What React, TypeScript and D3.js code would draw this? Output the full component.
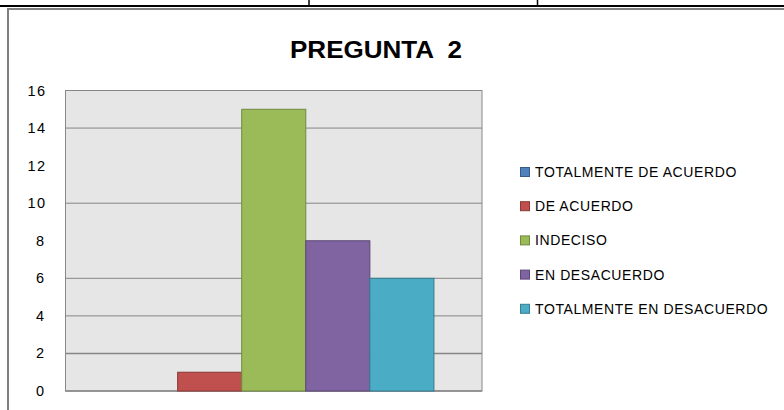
import React from "react";
import * as d3 from "d3";

const title = "PREGUNTA  2";
const categories = ["PREGUNTA 2"];
const seriesNames = [
  "TOTALMENTE DE ACUERDO",
  "DE ACUERDO",
  "INDECISO",
  "EN DESACUERDO",
  "TOTALMENTE EN DESACUERDO",
];
const seriesValues = [0, 1, 15, 8, 6];
const seriesColors = ["#4f81bd", "#c0504d", "#9bbb59", "#8064a2", "#4bacc6"];
const seriesStrokes = ["#385d8a", "#8c3836", "#71893f", "#5c4776", "#357d91"];
const yTicks = [0, 2, 4, 6, 8, 10, 12, 14, 16];
const gridValues = [2, 4, 6, 10, 14, 16];

const W = 784;
const H = 410;
const plot = { left: 65.5, right: 482, top: 90.5, bottom: 391 };

export default function App() {
  const y = d3.scaleLinear().domain([0, 16]).range([plot.bottom, plot.top]);
  const x0 = d3
    .scaleBand()
    .domain(categories)
    .range([plot.left, plot.right])
    .paddingInner(0)
    .paddingOuter(0);
  // gap width 150% => outer padding each side = 0.75 bar width
  const groupW = x0.bandwidth();
  const barW = groupW / (seriesNames.length + 1.5);
  const x1 = d3
    .scaleBand()
    .domain(seriesNames)
    .range([barW * 0.75, groupW - barW * 0.75])
    .padding(0);

  const font = "'Liberation Sans', Arial, sans-serif";

  return (
    <svg
      width={W}
      height={H}
      style={{ position: "absolute", left: 0, top: 0, background: "#fff" }}
    >
      {/* document table lines */}
      <line x1={0} x2={W} y1={6} y2={6} stroke="#000" strokeWidth={2} />
      <line x1={309} x2={309} y1={0} y2={6} stroke="#000" strokeWidth={1.5} />
      <line x1={537.5} x2={537.5} y1={0} y2={6} stroke="#000" strokeWidth={1.5} />
      {/* chart frame */}
      <line x1={7} x2={W} y1={9} y2={9} stroke="#808080" strokeWidth={2} />
      <line x1={8} x2={8} y1={8} y2={H} stroke="#808080" strokeWidth={2} />

      <text
        x={376}
        y={58}
        textAnchor="middle"
        fontFamily={font}
        fontWeight="bold"
        fontSize={23}
        fill="#000"
        textLength={172}
        lengthAdjust="spacingAndGlyphs"
        style={{ whiteSpace: "pre" }}
      >
        {title}
      </text>

      {/* plot area */}
      <rect
        x={plot.left}
        y={plot.top}
        width={plot.right - plot.left}
        height={plot.bottom - plot.top}
        fill="#e6e6e6"
        stroke="#888"
        strokeWidth={1}
      />
      {gridValues.map((v) => (
        <line
          key={v}
          x1={plot.left}
          x2={plot.right}
          y1={y(v)}
          y2={y(v)}
          stroke="#868686"
          strokeWidth={v === 2 ? 1.5 : 1}
        />
      ))}
      <line
        x1={plot.left}
        x2={plot.right}
        y1={y(0)}
        y2={y(0)}
        stroke="#868686"
        strokeWidth={1.5}
      />

      {yTicks.map((v) => (
        <text
          key={v}
          x={v >= 10 ? 37 : 40}
          y={y(v) + 5}
          textAnchor="middle"
          fontFamily={font}
          fontSize={14.5}
          letterSpacing={v >= 10 ? 1.5 : 0}
          fill="#000"
        >
          {v}
        </text>
      ))}

      {categories.map((c) => (
        <g key={c} transform={`translate(${x0(c)},0)`}>
          {seriesNames.map((s, i) => {
            const v = seriesValues[i];
            if (v <= 0) return null;
            return (
              <rect
                key={s}
                x={x1(s)!}
                y={y(v)}
                width={x1.bandwidth()}
                height={y(0) - y(v)}
                fill={seriesColors[i]}
                stroke={seriesStrokes[i]}
                strokeWidth={1}
              />
            );
          })}
        </g>
      ))}

      {seriesNames.map((s, i) => {
        const cy = 172 + i * 34.2;
        return (
          <g key={s}>
            <rect
              x={520.5}
              y={cy - 4.5}
              width={9}
              height={9}
              fill={seriesColors[i]}
              stroke={seriesStrokes[i]}
              strokeWidth={1}
            />
            <text
              x={535}
              y={cy + 5}
              fontFamily={font}
              fontSize={14}
              letterSpacing={0.6}
              fill="#000"
            >
              {s}
            </text>
          </g>
        );
      })}
    </svg>
  );
}
